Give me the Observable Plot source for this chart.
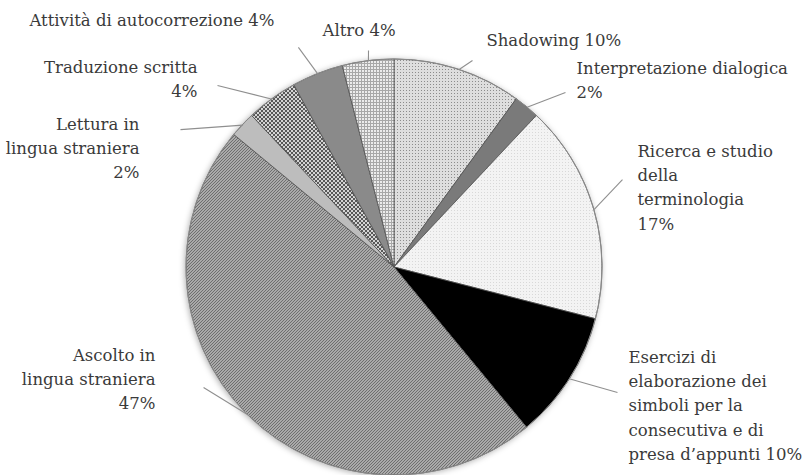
<!DOCTYPE html>
<html><head><meta charset="utf-8">
<script src="https://cdn.jsdelivr.net/npm/d3@7"></script>
<script src="https://cdn.jsdelivr.net/npm/@observablehq/plot@0.6"></script>
<style>body{margin:0;background:#fff} #chart svg text{font-family:"DejaVu Serif","Liberation Serif",serif !important}</style>
</head><body><div id="chart"></div>
<script>
// ---- data ----
const categories = ["Shadowing", "Interpretazione dialogica", "Ricerca e studio della terminologia",
  "Esercizi di elaborazione dei simboli per la consecutiva e di presa d’appunti",
  "Ascolto in lingua straniera", "Lettura in lingua straniera", "Traduzione scritta",
  "Attività di autocorrezione", "Altro"];
const values = [10, 2, 17, 10, 47, 2, 4, 4, 4];
const labelLines = [
  ["Shadowing 10%"],
  ["Interpretazione dialogica", "2%"],
  ["Ricerca e studio", "della", "terminologia", "17%"],
  ["Esercizi di", "elaborazione dei", "simboli per la", "consecutiva e di", "presa d’appunti 10%"],
  ["Ascolto in", "lingua straniera", "47%"],
  ["Lettura in", "lingua straniera", "2%"],
  ["Traduzione scritta", "4%"],
  ["Attività di autocorrezione 4%"],
  ["Altro 4%"]
];

// ---- layout / style (radius units, centre of pie = 0,0) ----
const labelAt = [[0.442,1.091,"start"],[0.875,0.957,"start"],[1.168,0.558,"start"],[1.125,-0.433,"start"],
  [-1.149,-0.423,"end"],[-1.226,0.688,"end"],[-0.947,0.962,"end"],[-0.577,1.188,"end"],[-0.346,1.139,"start"]];
const leaderTo = [[0.375,0.995],[0.822,0.841],[1.096,0.423],[1.072,-0.601],[-0.918,-0.577],
  [-1.029,0.663],[-0.851,0.875],[-0.462,1.058],[-0.125,1.043]];
const fills = ["url(#p-shadow)","#7a7a7a","url(#p-ricerca)","#000000","url(#p-ascolto)","#bdbdbd",
  "url(#p-traduz)","#8a8a8a","url(#p-altro)"];
const lineStep = 24.3 / 208;
const W = 806, H = 475, CX = 394, CY = 267, R = 208;

const arcs = d3.pie().sort(null).value(d => d)(values);
const leaders = arcs.map((a, i) => {
  const m = (a.startAngle + a.endAngle) / 2;
  return {x1: Math.sin(m), y1: Math.cos(m), x2: leaderTo[i][0], y2: leaderTo[i][1]};
});
const rows = [];
labelLines.forEach((lines, i) => lines.forEach((t, j) =>
  rows.push({t, u: labelAt[i][0], v: labelAt[i][1] - j * lineStep, anchor: labelAt[i][2], cat: categories[i]})));

function pieMark(index, {x, y}) {
  const cx = x(0), cy = y(0), r = x(1) - x(0);
  const g = d3.create("svg:g");
  const defs = g.append("defs");
  const pat = (id, size, bg) => {
    const p = defs.append("pattern").attr("id", id).attr("patternUnits", "userSpaceOnUse")
      .attr("width", size).attr("height", size);
    p.append("rect").attr("width", size).attr("height", size).attr("fill", bg);
    return p;
  };
  let p = pat("p-shadow", 3, "#dedede");
  p.append("rect").attr("width", 1).attr("height", 1).attr("fill", "#8c8c8c");
  p = pat("p-ricerca", 3, "#f3f3f3");
  p.append("rect").attr("width", 1).attr("height", 1).attr("fill", "#d8d8d8");
  p = pat("p-ascolto", 3, "#c4c4c4");
  p.append("path").attr("d", "M-1,1 L1,-1 M0,3 L3,0 M2,4 L4,2").attr("stroke", "#6a6a6a").attr("stroke-width", 1.1);
  p = pat("p-traduz", 4, "#d4d4d4");
  p.append("path").attr("d", "M0,0 L4,4 M4,0 L0,4").attr("stroke", "#4a4a4a").attr("stroke-width", 0.9);
  p = pat("p-altro", 3, "#ececec");
  p.append("path").attr("d", "M0,0.5 H3 M0.5,0 V3").attr("stroke", "#a8a8a8").attr("stroke-width", 1);
  const f = defs.append("filter").attr("id", "pie-shadow").attr("x", "-10%").attr("y", "-10%").attr("width", "120%").attr("height", "120%");
  f.append("feDropShadow").attr("dx", -1).attr("dy", 1).attr("stdDeviation", 3).attr("flood-color", "#000").attr("flood-opacity", 0.35);

  g.append("circle").attr("cx", cx).attr("cy", cy).attr("r", r).attr("fill", "#fff").attr("filter", "url(#pie-shadow)");
  const arc = d3.arc().innerRadius(0).outerRadius(r);
  g.append("g").attr("transform", `translate(${cx},${cy})`)
    .selectAll("path").data(arcs).join("path")
    .attr("d", arc).attr("fill", (d, i) => fills[i])
    .attr("stroke", "#505050").attr("stroke-width", 0.8).attr("stroke-linejoin", "round");
  g.append("circle").attr("cx", cx).attr("cy", cy).attr("r", r).attr("fill", "none")
    .attr("stroke", "#8a8a8a").attr("stroke-width", 1);
  return g.node();
}

const textOpts = {x: "u", y: "v", text: "t", fill: "#3a3a3a", fontSize: 16.5};
const chart = Plot.plot({
  width: W, height: H,
  marginTop: 0, marginBottom: 0, marginLeft: 0, marginRight: 0,
  x: {domain: [-CX / R, (W - CX) / R], axis: null},
  y: {domain: [-(H - CY) / R, CY / R], axis: null},
  style: {background: "#fff"},
  marks: [
    pieMark,
    Plot.link(leaders, {x1: "x1", y1: "y1", x2: "x2", y2: "y2", stroke: "#8f8f8f", strokeWidth: 1.1}),
    Plot.text(rows.filter(d => d.anchor === "start"), {...textOpts, textAnchor: "start"}),
    Plot.text(rows.filter(d => d.anchor === "end"), {...textOpts, textAnchor: "end"})
  ]
});
document.getElementById("chart").append(chart);
</script>
</body></html>
